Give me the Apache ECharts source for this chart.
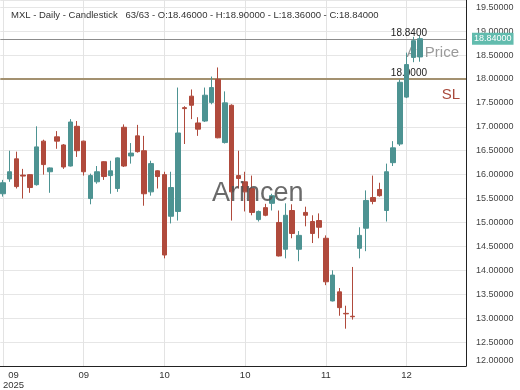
<!DOCTYPE html>
<html><head><meta charset="utf-8">
<script src="https://cdn.jsdelivr.net/npm/echarts@6.0.0/dist/echarts.min.js"></script>
<style>html,body{margin:0;padding:0;background:#fff}#c{width:520px;height:390px}</style>
</head><body><div id="c"></div>
<script>
// Candle values, one entry per trading day
const opens  = [15.60,15.91,16.33,15.99,16.00,15.79,16.70,16.06,16.79,16.62,16.18,17.01,16.70,15.50,15.85,16.27,15.98,15.71,16.99,16.39,16.81,16.50,15.64,16.08,16.00,15.13,15.23,17.40,17.64,17.08,17.12,17.51,17.99,16.67,17.45,15.98,15.85,15.71,15.06,15.31,15.40,15.00,14.44,15.25,14.44,15.21,15.02,15.04,14.67,13.36,13.55,13.10,13.04,14.46,14.88,15.52,15.69,15.25,16.25,16.64,17.62,18.45,18.46];
const closes = [15.83,16.06,15.75,15.97,15.73,16.58,16.21,16.14,16.70,16.16,17.10,16.50,16.06,15.98,16.06,15.96,16.08,16.35,16.18,16.45,16.48,15.60,16.23,15.96,14.32,15.73,16.87,17.38,17.45,16.95,17.66,17.82,16.77,17.50,15.64,15.92,15.64,15.21,15.23,15.15,15.56,14.30,15.15,14.77,14.73,15.15,14.77,14.90,13.76,13.90,13.22,13.09,13.03,14.73,15.46,15.44,15.56,16.06,16.56,17.93,18.30,18.80,18.84];
const lows   = [15.54,15.85,15.71,15.50,15.62,15.77,16.00,15.62,16.54,16.12,16.17,16.37,15.98,15.38,15.81,15.89,15.60,15.64,16.16,16.23,16.46,15.35,15.56,15.71,14.25,14.98,15.04,16.64,17.16,16.81,17.10,17.47,16.76,16.65,15.04,15.71,15.23,15.15,15.02,15.13,15.25,14.29,14.25,14.67,14.19,14.92,14.57,14.67,13.69,13.35,13.05,12.78,12.97,14.25,14.40,15.38,15.54,15.02,16.18,16.60,17.60,18.35,18.36];
const highs  = [15.89,16.50,16.48,16.12,16.01,17.01,16.73,16.15,16.91,16.64,17.16,17.12,16.71,16.02,16.18,16.28,16.29,16.36,17.05,16.66,17.04,16.81,16.29,16.09,16.06,16.06,17.82,17.43,17.78,17.20,17.82,18.05,18.24,17.74,17.47,16.50,16.06,15.98,15.25,15.39,15.60,15.25,15.40,15.38,14.82,15.33,15.15,15.19,14.73,14.00,13.63,13.26,14.07,14.90,15.67,15.98,15.83,16.23,16.70,17.99,18.55,18.88,18.90];
const tickIdx    = [0, 12, 24, 36, 48, 60];
const tickLabels = ['09|2025', '09', '10', '10', '11', '12'];
const lastPrice = 18.84;
const stopLoss = 18.00;
const titleText = 'MXL - Daily - Candlestick   63/63 - O:18.46000 - H:18.90000 - L:18.36000 - C:18.84000';

const candles = opens.map((o, i) => [i, o, closes[i], lows[i], highs[i]]);
const FONT = '"Liberation Sans", Arial, sans-serif';
const UP = '#4d9392', DOWN = '#b04a3c';
const NOLINE = {color: 'rgba(0,0,0,0)', width: 0};

const chart = echarts.init(document.getElementById('c'), null, {renderer: 'canvas'});
chart.setOption({
  animation: false,
  backgroundColor: '#ffffff',
  textStyle: {fontFamily: FONT},
  title: {text: titleText, left: 6, top: 5,
    textStyle: {fontSize: 9.5, fontWeight: 'normal', color: '#333', fontFamily: FONT}},
  grid: {left: 0, right: 54, top: 0, bottom: 21, containLabel: false},
  xAxis: {
    type: 'value', min: -0.4, max: 68.84,
    axisLine: {show: true, onZero: false, lineStyle: {color: '#222', width: 1}},
    axisTick: {show: false, customValues: tickIdx},
    splitLine: {show: true, lineStyle: {color: '#e3e3e3', width: 1}},
    axisLabel: {
      customValues: tickIdx, margin: 4, color: '#333', fontSize: 9.5, lineHeight: 10,
      alignMinLabel: 'left',
      formatter: v => {
        const k = tickIdx.indexOf(Math.round(v));
        const s = k >= 0 ? tickLabels[k] : '';
        if (s.indexOf('|') >= 0) { const p = s.split('|'); return '{c|' + p[0] + '}\n{c|' + p[1] + '}'; }
        return s;
      },
      rich: {c: {align: 'center', fontSize: 9.5, lineHeight: 10, color: '#333', fontFamily: FONT}}
    }
  },
  yAxis: {
    type: 'value', position: 'right', min: 12, max: 19.65, interval: 0.5,
    axisLine: {show: true, onZero: false, lineStyle: {color: '#222', width: 1}},
    axisTick: {show: false},
    splitLine: {show: true, lineStyle: {color: '#e6e6e6', width: 1}},
    axisLabel: {
      color: '#444', fontSize: 9, margin: 10, showMaxLabel: false,
      formatter: v => (Math.abs(v - 12) < 1e-9 ? '{lo|' + v.toFixed(5) + '}' : v.toFixed(5)),
      rich: {lo: {fontSize: 9, color: '#444', padding: [0, 0, 10, 0], fontFamily: FONT}}
    }
  },
  graphic: [{
    type: 'text', left: 212, top: 180, z: 100,
    style: {text: 'Arincen', font: '27px "Liberation Sans", Arial, sans-serif', fill: 'rgba(80,80,80,0.85)'}
  }],
  series: [{
    type: 'candlestick',
    z: 3,
    data: candles,
    encode: {x: 0, y: [1, 2, 3, 4]},
    barWidth: 5,
    itemStyle: {color: UP, color0: DOWN, borderColor: UP, borderColor0: DOWN, borderWidth: 1},
    markLine: {
      symbol: ['none', 'none'], silent: true, animation: false, z: 1,
      data: [
        {yAxis: lastPrice, lineStyle: {color: '#8c8c8c', width: 1, type: 'solid'},
          label: {show: true, position: 'end', distance: 6, formatter: lastPrice.toFixed(5),
            backgroundColor: '#62bcae', color: '#fff', padding: [2, 2, 1, 2], fontSize: 9}},
        {yAxis: lastPrice, lineStyle: NOLINE,
          label: {show: true, position: 'insideEndTop', distance: 1, formatter: lastPrice.toFixed(4),
            color: '#222', fontSize: 10, padding: [0, 38, 0, 0]}},
        {yAxis: lastPrice, lineStyle: NOLINE,
          label: {show: true, position: 'insideEndBottom', distance: 7, formatter: 'At Price',
            color: '#9a9a9a', fontSize: 15, padding: [0, 0, 0, 0]}},
        {yAxis: stopLoss, lineStyle: {color: '#a39170', width: 2, type: 'solid'},
          label: {show: true, position: 'insideEndTop', distance: 1, formatter: stopLoss.toFixed(4),
            color: '#222', fontSize: 10, padding: [0, 38, 0, 0]}},
        {yAxis: stopLoss, lineStyle: NOLINE,
          label: {show: true, position: 'insideEndBottom', distance: 6, formatter: 'SL',
            color: '#a8493b', fontSize: 15, padding: [2, 0, 0, 0]}}
      ]
    }
  }]
});
</script></body></html>
